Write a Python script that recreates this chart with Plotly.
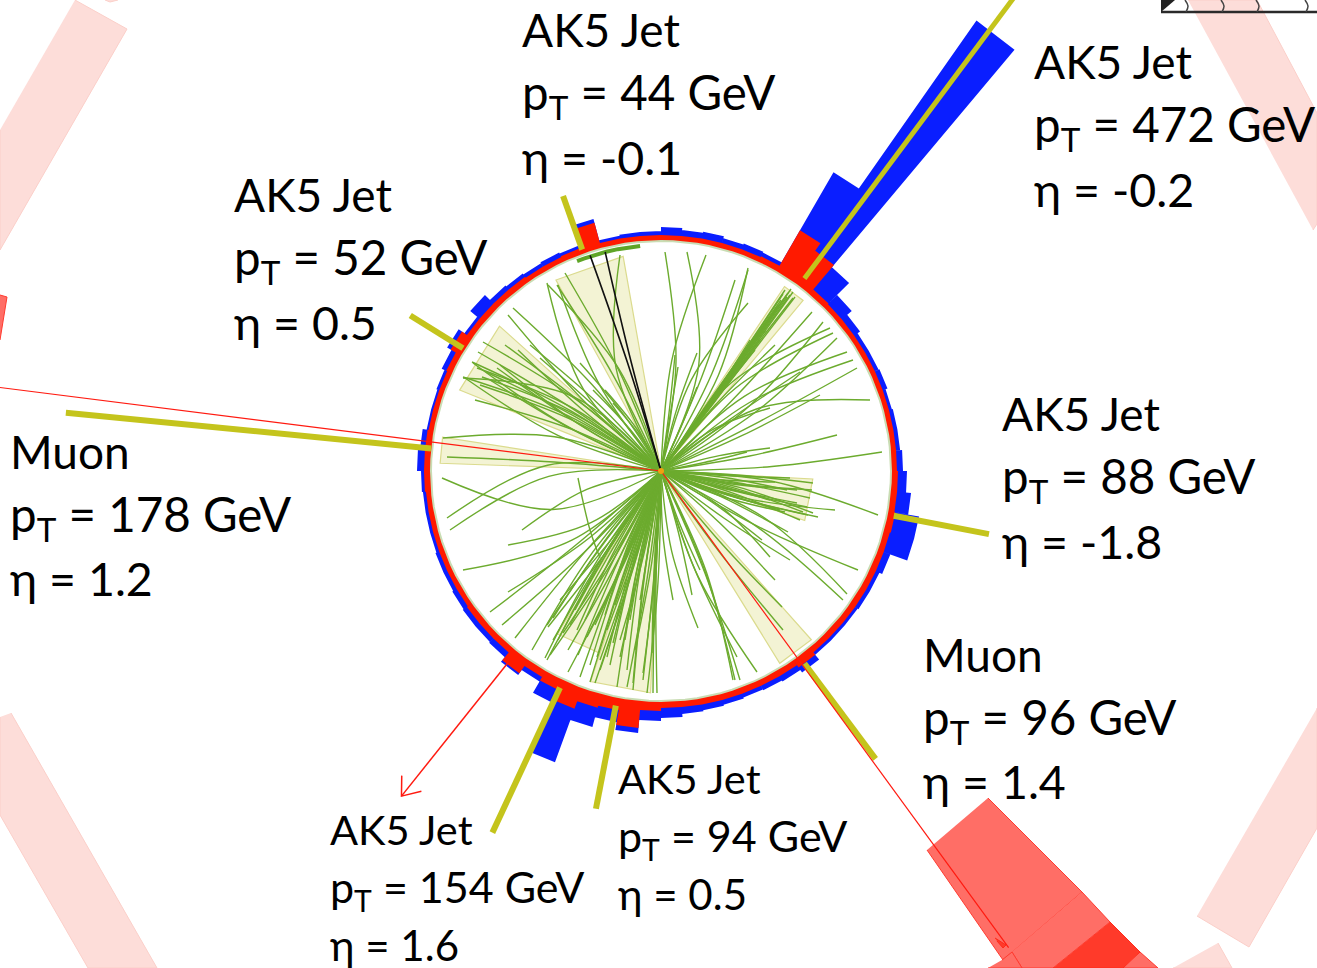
import math
import plotly.graph_objects as go

# Event vertex and tracker edge, in picture units
VX, VY = 661, 471
R_IN = 230

# Calorimeter towers: 5 degree phi bins starting at phi = 0, outer radius of each deposit
calo_phi = list(range(0, 360, 5))
hcal_r = [242, 240, 240, 239, 241, 240, 240, 243, 249, 266, 550, 345,
          241, 242, 241, 243, 242, 244, 240, 240, 239, 261, 240, 241,
          240, 241, 242, 249, 240, 247, 242, 239, 238, 238, 242, 244,
          240, 239, 239, 239, 240, 240, 241, 242, 242, 243, 249, 243,
          256, 310, 265, 255, 263, 250, 247, 244, 243, 242, 241, 242,
          243, 246, 240, 240, 240, 241, 241, 244, 262, 262, 251, 246]
ecal_r = [236, 236, 236, 236, 236, 236, 236, 236, 236, 237, 269, 278,
          237, 236, 236, 236, 236, 236, 236, 236, 236, 257, 237, 236,
          236, 237, 237, 237, 237, 243, 237, 236, 236, 236, 237, 237,
          237, 236, 236, 236, 236, 236, 236, 237, 237, 237, 247, 238,
          242, 253, 245, 243, 258, 240, 237, 237, 237, 237, 237, 237,
          237, 240, 237, 237, 237, 237, 237, 237, 237, 238, 237, 237]

# Reconstructed objects
jet_phi = [53.2, 109.4, 148.1, -11.0, -114.5, -100.6]
jet_half = [3.0, 9.4, 10.0, 8.0, 8.0, 7.9]
jet_cone_r = [222, 218, 217, 152, 193, 222]
muon_phi = [174.6, -53.3]
muon_half = [3.4, 5.0]
muon_cone_r = [221, 226]
stub_phi = [53.3, 109.6, 148.2, -10.9, -115.0, -100.9, 174.4, -53.3]
stub_r0 = [240, 235, 233, 237, 239, 239, 231, 240]
stub_r1 = [600, 292, 295, 334, 399, 344, 598, 359]

# Thin red muon lines and MET arrow
muon_line_phi = [172.8, -53.9]
muon_line_r = [680, 590]
met_phi = -128.6
met_r = [245, 416]

# Tracks: end point and sagitta
track_end_x = [
    472, 473, 463, 465, 483, 478, 477, 482, 463, 508, 513, 547, 548, 558, 565, 557, 580, 605, 613, 593,
    490, 486, 480, 497, 505, 518, 530, 540, 475, 500,
    665, 687, 706, 748, 748, 748, 697, 675, 678, 697, 823, 812, 830, 833, 837, 847, 853, 857, 870, 837,
    882, 770, 770, 747, 620, 750, 775, 735, 800, 820,
    785, 790, 793, 795, 788, 791, 783, 787, 793, 781, 776, 770, 778, 766, 760, 755,
    443, 447, 442, 447, 450, 522, 508, 463, 508, 490, 502, 515,
    547, 548, 553, 545, 532, 568, 580, 590, 595, 547, 550, 553, 570, 563, 577, 587, 597, 607, 600, 617,
    627, 633, 647, 653, 657, 643, 653, 652, 627, 643, 633, 607, 613, 620, 560, 575, 585, 595, 605, 615,
    625, 635, 558, 568, 578, 590, 600, 610, 620, 630, 640,
    673, 698, 757, 733, 735, 740, 737, 783, 782, 770, 847, 843, 858, 878, 762, 788, 835, 818, 790, 775, 700, 692,
    812, 810, 808, 813, 807, 797, 787, 785, 803, 813, 797, 790, 775, 800, 780, 770]
track_end_y = [
    362, 363, 377, 378, 342, 352, 368, 377, 378, 315, 308, 283, 285, 285, 273, 285, 363, 390, 403, 390,
    380, 372, 385, 368, 345, 350, 345, 358, 400, 365,
    252, 252, 255, 303, 268, 270, 353, 355, 367, 387, 322, 312, 328, 333, 338, 352, 360, 368, 400, 435,
    452, 408, 448, 452, 255, 340, 345, 280, 372, 395,
    290, 295, 292, 297, 293, 289, 294, 297, 298, 300, 310, 320, 305, 330, 340, 350,
    438, 457, 478, 518, 530, 530, 545, 570, 592, 612, 625, 638,
    625, 627, 618, 658, 650, 672, 677, 682, 683, 660, 655, 640, 625, 633, 630, 637, 657, 657, 660, 687,
    687, 690, 693, 693, 693, 680, 630, 653, 670, 673, 683, 630, 643, 657, 600, 610, 620, 625, 615, 605,
    640, 650, 640, 650, 655, 665, 670, 665, 640, 620, 600,
    600, 628, 672, 680, 680, 680, 657, 630, 607, 557, 594, 600, 570, 515, 540, 532, 510, 517, 560, 580, 570, 595,
    490, 498, 515, 513, 507, 490, 490, 512, 512, 483, 503, 478, 482, 520, 510, 500]
track_bend = [
    7, -8, 10, -12, 8, 4, 12, 10, 30, -6, 7, -24, 17, -12, 6, 5, 4, 4, 3, 3,
    -5, 5, 8, -4, 3, -4, 5, 2, 7, -6,
    13, 25, -12, -15, 15, 8, -3, 1, 0, 1, 12, 3, -22, -18, 10, -18, -15, 2, -28, 3,
    5, -10, -3, 1, -25, 2, -4, 4, -2, 3,
    1, 0, 1, 0, -1, 1, 1, 0, -1, 1, 0, 1, -1, 0, 1, -1,
    18, 2, -35, 30, 25, 12, -16, -22, -8, -3, -5, 4,
    3, -3, 4, 7, 8, -4, 3, 2, -2, 4, -5, 3, 2, -3, 4, -4, 2, 3, -2, 4,
    -3, 3, -4, 2, 3, -2, 0, 2, 4, -3, 3, -2, 2, 0, -3, 3, 2, -2, 4, 0,
    3, -4, 5, -3, 2, 4, -2, 3, -3, 2, 0,
    4, 8, 12, -10, -8, -5, 6, 3, 3, -9, -18, -10, 6, -12, -3, -3, 8, 4, 3, -3, 2, -2,
    3, -2, 4, -5, 2, 3, -3, 5, -4, -2, 2, 1, 3, -3, 2, -1]

loose_arc_x = [578, 590, 600]
loose_arc_y = [478, 530, 558]

# Two black tracks and the dark green band at the top of the tracker
black_phi = [108.2, 104.3]
black_r = [227, 226]
black_bend = [2, -2]
band_phi = [95.3, 98, 101, 104, 107, 110, 111.8]
band_r = 226

# Muon chambers (picture units)
chamber_polys = [
    ([11, 157, 88, 0, 0], [713, 968, 968, 815, 717]),
    ([75, 127, 0, 0], [0, 29, 250, 130]),
    ([105, 110, 118], [0, 2, 0]),
    ([1317, 1317, 1249, 1197], [708, 828, 947, 916]),
    ([1218, 1232, 1173], [943, 968, 968]),
    ([1188, 1257, 1317, 1317, 1313], [0, 0, 113, 224, 230]),
]
hit_light_polys = [
    ([988, 1082, 1003, 927], [798, 892, 960, 850]),
    ([1082, 1110, 1053, 1022, 1012], [892, 922, 968, 968, 952]),
    ([1140, 1158, 1123], [952, 968, 968]),
    ([1002, 1012, 1022, 988], [960, 952, 968, 968]),
    ([0, 7, 0], [295, 297, 340]),
]
hit_dark_polys = [
    ([1110, 1140, 1123, 1053], [922, 952, 968, 968]),
    ([995, 1006, 1003, 997], [938, 945, 948, 941]),
]
corner_ticks_x = [1187, 1223, 1258, 1307]

# Labels: text lines with left edge and line centres
label_kind = ["AK5 Jet", "AK5 Jet", "AK5 Jet", "AK5 Jet", "Muon", "Muon", "AK5 Jet", "AK5 Jet"]
label_pt = [44, 472, 52, 88, 178, 96, 94, 154]
label_eta = ["-0.1", "-0.2", "0.5", "-1.8", "1.2", "1.4", "0.5", "1.6"]
label_x = [520, 1032, 232, 1000, 8, 921, 616, 328]
label_y = [29, 61, 194, 413, 451, 654, 778, 829]
label_step = [64, 64, 64, 64, 63.5, 63.5, 58, 58]
label_sizes = [[46, 47.5, 46.5]] * 6 + [[41.5, 43, 42]] * 2
label_nudge = [0, 2, 0]

FONT = "Lato, 'Open Sans', sans-serif"


def polar(phi, r):
    a = math.radians(phi)
    return VX + r * math.cos(a), VY - r * math.sin(a)


def closed(points):
    xs = [p[0] for p in points] + [points[0][0], None]
    ys = [p[1] for p in points] + [points[0][1], None]
    return xs, ys


def wedge_points(phi, half, r):
    n = [phi - half, phi + half]
    return [(VX, VY), polar(n[0], r), polar(n[1], r)]


def add_fill(fig, xs, ys, color, line=None, width=0):
    fig.add_trace(go.Scatter(x=xs, y=ys, mode="lines", fill="toself", fillcolor=color,
                             line=dict(color=line or color, width=width), hoverinfo="skip"))


def ring_polys(outer):
    xs, ys = [], []
    for phi, r in zip(calo_phi, outer):
        px, py = closed([polar(phi, R_IN), polar(phi, r), polar(phi + 5, r), polar(phi + 5, R_IN)])
        xs += px
        ys += py
    return xs, ys


def arc_segment(x0, y0, x1, y1, bend):
    dx, dy = x1 - x0, y1 - y0
    n = math.hypot(dx, dy) or 1
    return [x0, (x0 + x1) / 2 - dy / n * bend, x1, None], [y0, (y0 + y1) / 2 + dx / n * bend, y1, None]


fig = go.Figure()

# Muon chambers
for xs, ys in chamber_polys:
    add_fill(fig, xs, ys, "#FDDDD9", "#FBCFC9", 1)
for xs, ys in hit_light_polys:
    add_fill(fig, xs, ys, "#FF6E66", "#FF3B30", 1)
for xs, ys in hit_dark_polys:
    add_fill(fig, xs, ys, "#FF3A2A", "#FF2A1A", 1)

# Corner of the outer structure
fig.add_trace(go.Scatter(x=[1161, 1317], y=[12, 12], mode="lines",
                         line=dict(color="#2A2A2A", width=2.5), hoverinfo="skip"))
add_fill(fig, [1161, 1175, 1161], [12, 0, 0], "#222222")
for tx in corner_ticks_x:
    fig.add_trace(go.Scatter(x=[tx - 2, tx + 1, tx - 1], y=[0, 6, 12], mode="lines",
                             line=dict(color="#444444", width=1.5, shape="spline"), hoverinfo="skip"))

# Calorimeters
bx, by = ring_polys(hcal_r)
add_fill(fig, bx, by, "#0A1EFF")
rx, ry = ring_polys(ecal_r)
add_fill(fig, rx, ry, "#FF1A00")

# Tracker edge
edge = list(range(0, 361, 3))
fig.add_trace(go.Scatter(x=[polar(a, R_IN)[0] for a in edge], y=[polar(a, R_IN)[1] for a in edge],
                         mode="lines", line=dict(color="#C9DDB4", width=2),
                         fill="toself", fillcolor="#FFFFFF", hoverinfo="skip"))

# Cones
for phi, half, r in list(zip(jet_phi, jet_half, jet_cone_r)) + list(zip(muon_phi, muon_half, muon_cone_r)):
    xs, ys = closed(wedge_points(phi, half, r))
    add_fill(fig, xs, ys, "#F3F3D4", "#DBDB8E", 1.2)

# Tracks
tx, ty = [], []
for ex, ey, b in zip(track_end_x, track_end_y, track_bend):
    sx, sy = arc_segment(VX, VY, ex, ey, b)
    tx += sx
    ty += sy
tx += loose_arc_x + [None]
ty += loose_arc_y + [None]
fig.add_trace(go.Scatter(x=tx, y=ty, mode="lines",
                         line=dict(color="#6CAB2E", width=1.4, shape="spline"), hoverinfo="skip"))

fig.add_trace(go.Scatter(x=[polar(a, band_r)[0] for a in band_phi], y=[polar(a, band_r)[1] for a in band_phi],
                         mode="lines", line=dict(color="#5FA527", width=4), hoverinfo="skip"))
for phi, r, b in zip(black_phi, black_r, black_bend):
    ex, ey = polar(phi, r)
    sx, sy = arc_segment(VX, VY, ex, ey, b)
    fig.add_trace(go.Scatter(x=sx, y=sy, mode="lines",
                             line=dict(color="#111111", width=1.6, shape="spline"), hoverinfo="skip"))

# Yellow stubs
for phi, r0, r1 in zip(stub_phi, stub_r0, stub_r1):
    p0, p1 = polar(phi, r0), polar(phi, r1)
    fig.add_trace(go.Scatter(x=[p0[0], p1[0]], y=[p0[1], p1[1]], mode="lines",
                             line=dict(color="#C4C41C", width=6 if phi != 53.3 else 5), hoverinfo="skip"))

# Muon lines
for phi, r in zip(muon_line_phi, muon_line_r):
    p1 = polar(phi, r)
    fig.add_trace(go.Scatter(x=[VX, p1[0]], y=[VY, p1[1]], mode="lines",
                             line=dict(color="#FF1A10", width=1.2), hoverinfo="skip"))

# MET arrow
p0, p1 = polar(met_phi, met_r[0]), polar(met_phi, met_r[1])
h0, h1 = polar(met_phi + 1.8, met_r[1] - 16), polar(met_phi - 1.8, met_r[1] - 16)
fig.add_trace(go.Scatter(x=[p0[0], p1[0], None, h0[0], p1[0], h1[0]],
                         y=[p0[1], p1[1], None, h0[1], p1[1], h1[1]], mode="lines",
                         line=dict(color="#FF1A10", width=1.5), hoverinfo="skip"))

# Vertex
fig.add_trace(go.Scatter(x=[VX], y=[VY], mode="markers",
                         marker=dict(color="#F0A010", size=6), hoverinfo="skip"))

# Labels
for kind, pt, eta, x, y, step, sizes in zip(label_kind, label_pt, label_eta, label_x, label_y, label_step, label_sizes):
    lines = [kind, f"p<sub>T</sub> = {pt} GeV", f"η = {eta}"]
    for i, text in enumerate(lines):
        fig.add_annotation(x=x, y=y + i * step + label_nudge[i], text=text, showarrow=False, xanchor="left",
                           yanchor="middle", font=dict(family=FONT, size=sizes[i], color="#000000"),
                           xref="x", yref="y")

fig.update_layout(width=1317, height=968, margin=dict(l=0, r=0, t=0, b=0), showlegend=False,
                  paper_bgcolor="white", plot_bgcolor="white",
                  xaxis=dict(range=[0, 1317], visible=False, fixedrange=True),
                  yaxis=dict(range=[968, 0], visible=False, fixedrange=True))
fig.write_html("out.html", config={"displayModeBar": False},
               post_script="document.body.style.margin='0';document.body.style.overflow='hidden';")
